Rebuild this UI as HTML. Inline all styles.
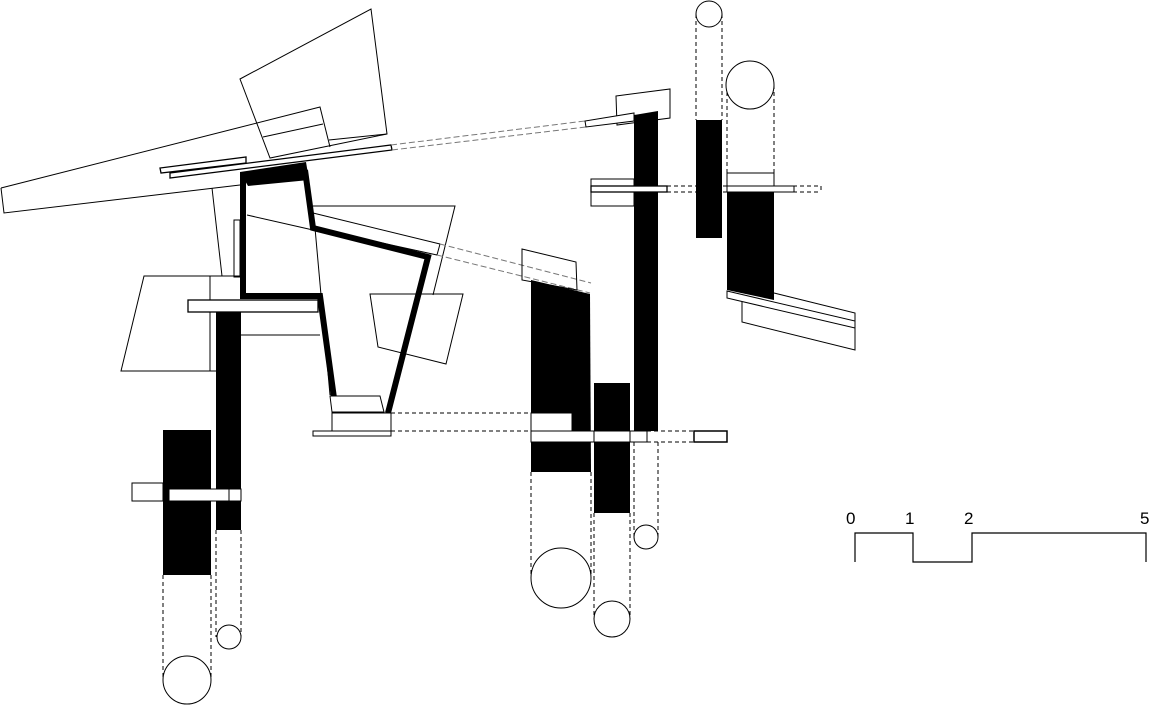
<!DOCTYPE html>
<html><head><meta charset="utf-8"><style>
html,body{margin:0;padding:0;background:#fff;}
svg{display:block}
text{font-family:"Liberation Sans",sans-serif;font-size:17px;fill:#000}
</style></head><body>
<svg width="1152" height="705" viewBox="0 0 1152 705" xmlns="http://www.w3.org/2000/svg">
<g fill="none" stroke="#000" stroke-width="1">
<!-- big left wedge -->
<polyline points="1,188 4,213 240,185"/>
<polyline points="1,188 320,107 330,147"/>
<line x1="263" y1="137" x2="323" y2="124"/>
<line x1="329" y1="140" x2="387" y2="134"/>
<polygon points="240,79 371,9 387,134 270,158"/>
<!-- planks -->
<polygon points="160,168 161,173 246,163 246,157" fill="#fff" stroke-width="1.3"/>
<polygon points="170,173 170,178 392,150 391,145" fill="#fff" stroke-width="1.3"/>
<!-- right quad -->
<polyline points="313,206 455,206 433,295"/>
<polygon points="313,213 440,244 437,255 313,228" fill="#fff"/>
<line x1="247" y1="215" x2="313" y2="230"/>
<line x1="315" y1="228" x2="330" y2="395"/>
<rect x="234" y="220" width="6" height="57"/>
<line x1="212" y1="188" x2="222" y2="276"/>
<!-- left quad -->
<polyline points="240,276 144,276 121,371 216,371"/>
<line x1="210" y1="276" x2="210" y2="371"/>
<rect x="188" y="300" width="130" height="12" fill="#fff" stroke-width="1.3"/>
<line x1="241" y1="335" x2="320" y2="335"/>
<!-- middle quad -->
<polygon points="370,294 463,294 446,364 378,347"/>
</g>
<!-- thick frame -->
<polygon points="240,172 306,162 309,180 248,186" fill="#000"/>
<polyline points="243,172 243,296 320,296 334,398" fill="none" stroke="#000" stroke-width="6"/>
<polyline points="305,170 313,228 428,257 388,413" fill="none" stroke="#000" stroke-width="6"/>
<g fill="none" stroke="#000" stroke-width="1">
<polygon points="330,396 380,396 384,412 332,412" fill="#fff"/>
<rect x="332" y="413" width="59" height="18" fill="#fff"/>
<rect x="313" y="431" width="78" height="5" fill="#fff"/>
</g>
<!-- left column group -->
<rect x="216" y="312" width="25" height="218" fill="#000"/>
<rect x="163" y="430" width="48" height="145" fill="#000"/>
<g fill="#fff" stroke="#000" stroke-width="1">
<rect x="132" y="483" width="31" height="18"/>
<rect x="169" y="489" width="72" height="12"/>
<line x1="229" y1="489" x2="229" y2="501"/>
</g>
<g fill="none" stroke="#000" stroke-width="1" stroke-dasharray="4,3">
<line x1="163" y1="575" x2="163" y2="680"/><line x1="211" y1="575" x2="211" y2="680"/>
<line x1="216" y1="530" x2="216" y2="637"/><line x1="241" y1="530" x2="241" y2="637"/>
<line x1="391" y1="413" x2="531" y2="413"/><line x1="391" y1="431" x2="531" y2="431"/>
<line x1="531" y1="472" x2="531" y2="578"/><line x1="591" y1="472" x2="591" y2="578"/>
<line x1="594" y1="513" x2="594" y2="619"/><line x1="630" y1="513" x2="630" y2="619"/>
<line x1="634" y1="442" x2="634" y2="537"/><line x1="658" y1="442" x2="658" y2="537"/>
<line x1="696" y1="14" x2="696" y2="120"/><line x1="722" y1="14" x2="722" y2="120"/>
<line x1="727" y1="85" x2="727" y2="173"/><line x1="774" y1="85" x2="774" y2="173"/>
<line x1="647" y1="431" x2="694" y2="431"/><line x1="647" y1="442" x2="694" y2="442"/>
<line x1="667" y1="186" x2="821" y2="186"/><line x1="667" y1="192" x2="821" y2="192"/><line x1="821" y1="186" x2="821" y2="192"/>
</g>
<g fill="none" stroke="#777" stroke-width="1" stroke-dasharray="6,3">
<line x1="391" y1="145" x2="585" y2="121"/><line x1="392" y1="150" x2="586" y2="127"/>
<line x1="440" y1="244" x2="591" y2="283"/><line x1="437" y1="255" x2="590" y2="293"/>
</g>
<g fill="#fff" stroke="#000" stroke-width="1">
<circle cx="187" cy="680" r="24"/>
<circle cx="229" cy="637" r="12"/>
<circle cx="561" cy="578" r="30"/>
<circle cx="612" cy="619" r="18"/>
<circle cx="646" cy="537" r="12"/>
<circle cx="709" cy="14" r="13"/>
<circle cx="750" cy="85" r="24"/>
</g>
<!-- right middle group -->
<polygon points="522,249 576,262 577,290 522,280" fill="none" stroke="#000"/>
<polygon points="531,280 590,294 591,472 531,472" fill="#000"/>
<rect x="594" y="383" width="36" height="130" fill="#000"/>
<polygon points="634,115 658,111 658,431 634,431" fill="#000"/>
<g fill="#fff" stroke="#000" stroke-width="1">
<rect x="531" y="413" width="41" height="18"/>
<rect x="531" y="431" width="116" height="11"/>
<line x1="594" y1="431" x2="594" y2="442"/><line x1="630" y1="431" x2="630" y2="442"/>
<rect x="694" y="431" width="33" height="11" stroke-width="1.5"/>
</g>
<!-- upper right -->
<polygon points="616,96 670,89 670,118 617,125" fill="none" stroke="#000"/>
<polygon points="585,121 586,127 634,121 634,113" fill="#fff" stroke="#000"/>
<rect x="591" y="179" width="43" height="27" fill="none" stroke="#000"/>
<rect x="591" y="186" width="76" height="6" fill="#fff" stroke="#000" stroke-width="1.3"/>
<rect x="696" y="120" width="26" height="118" fill="#000"/>
<rect x="727" y="173" width="47" height="19" fill="#fff" stroke="#000"/>
<polygon points="727,192 774,192 774,300 727,290" fill="#000"/>
<rect x="727" y="186" width="67" height="6" fill="#fff" stroke="#000"/>
<g fill="none" stroke="#000" stroke-width="1">
<polyline points="774,293 855,313 855,350 742,322 742,295"/>
<polygon points="727,291 855,321 855,328 727,298" fill="#fff"/>
</g>
<!-- scale bar -->
<polyline points="855,562 855,533 913,533 913,562 972,562 972,533 1146,533 1146,562" fill="none" stroke="#000" stroke-width="1.2"/>
<text x="846" y="524">0</text>
<text x="905" y="524">1</text>
<text x="964" y="524">2</text>
<text x="1140" y="524">5</text>
</svg>
</body></html>
